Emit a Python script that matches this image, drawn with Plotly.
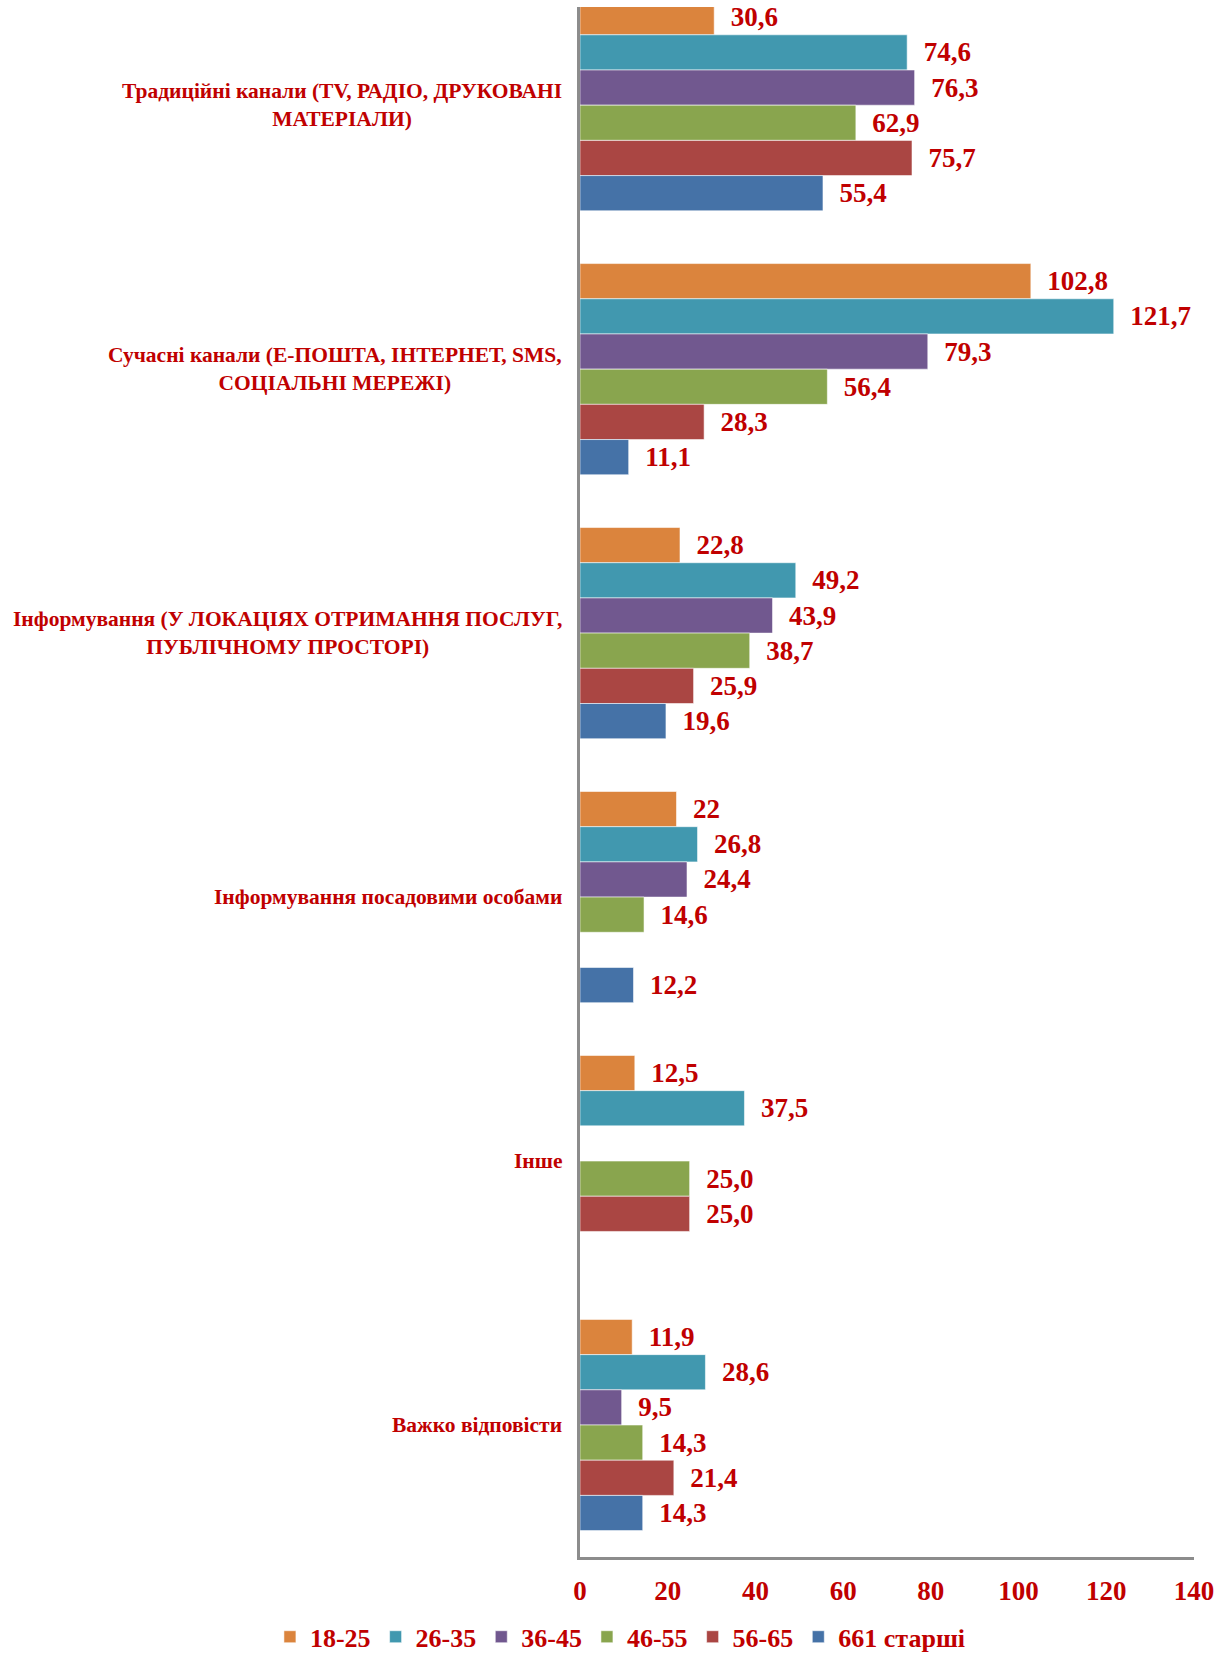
import plotly.graph_objects as go

# Channel categories (top to bottom)
categories = [
    "Традиційні канали (TV, РАДІО, ДРУКОВАНІ<br>МАТЕРІАЛИ)",
    "Сучасні канали (Е-ПОШТА, ІНТЕРНЕТ, SMS,<br>СОЦІАЛЬНІ МЕРЕЖІ)",
    "Інформування (У ЛОКАЦІЯХ ОТРИМАННЯ ПОСЛУГ,<br>ПУБЛІЧНОМУ ПРОСТОРІ)",
    "Інформування посадовими особами",
    "Інше",
    "Важко відповісти",
]

# Age groups (legend order)
age_groups = ["18-25", "26-35", "36-45", "46-55", "56-65", "661 старші"]

# Values per age group, written as they are labelled (None = no answer)
v_18_25 = ["30,6", "102,8", "22,8", "22", "12,5", "11,9"]
v_26_35 = ["74,6", "121,7", "49,2", "26,8", "37,5", "28,6"]
v_36_45 = ["76,3", "79,3", "43,9", "24,4", None, "9,5"]
v_46_55 = ["62,9", "56,4", "38,7", "14,6", "25,0", "14,3"]
v_56_65 = ["75,7", "28,3", "25,9", None, "25,0", "21,4"]
v_66_up = ["55,4", "11,1", "19,6", "12,2", None, "14,3"]

series = [v_18_25, v_26_35, v_36_45, v_46_55, v_56_65, v_66_up]
colors = ["#DB843D", "#4198AF", "#71588F", "#89A54E", "#AA4643", "#4572A7"]

x_ticks = [0, 20, 40, 60, 80, 100, 120, 140]

RED = "#C00000"
FONT = "Liberation Serif"


def to_num(s):
    return None if s is None else float(s.replace(",", "."))


fig = go.Figure()
for name, vals, col in zip(age_groups, series, colors):
    nums = [to_num(s) for s in vals]
    labels = ["" if s is None else "\u00a0\u00a0" + s for s in vals]
    fig.add_trace(go.Bar(
        name=name,
        y=categories,
        x=nums,
        orientation="h",
        marker=dict(color=col, line=dict(color="rgba(255,255,255,0.55)", width=1)),
        text=labels,
        textposition="outside",
        constraintext="none",
        cliponaxis=False,
        textfont=dict(family=FONT, size=27, color=RED, weight="bold"),
        hoverinfo="x+name",
    ))

# Category labels, centred line by line, to the left of the axis
for cat in categories:
    fig.add_annotation(
        x=0, xref="paper", xanchor="right", xshift=-16,
        y=cat, yref="y", yanchor="middle",
        text=cat, showarrow=False, align="center",
        font=dict(family=FONT, size=21.5, color=RED, weight="bold"),
    )

fig.update_layout(
    width=1227, height=1659,
    margin=dict(l=580, r=33, t=7, b=102, autoexpand=False),
    paper_bgcolor="white", plot_bgcolor="white",
    barmode="group", bargap=0.2, bargroupgap=0,
    showlegend=True,
    legend=dict(
        orientation="h", x=-0.505, xanchor="left", y=-0.0515, yanchor="middle",
        font=dict(family=FONT, size=26, color=RED, weight="bold"),
        itemclick=False, traceorder="normal", bgcolor="rgba(0,0,0,0)",
    ),
)

fig.update_xaxes(
    range=[0, 140], tickvals=x_ticks, showgrid=False, zeroline=False,
    showline=True, linecolor="#8C8C8C", linewidth=3, layer="below traces",
    ticks="", ticklabelstandoff=8,
    tickfont=dict(family=FONT, size=27, color=RED, weight="bold"),
)
fig.update_yaxes(
    type="category", categoryorder="array", categoryarray=categories,
    range=[5.5, -0.372], showgrid=False, zeroline=False,
    showline=True, linecolor="#8C8C8C", linewidth=3, layer="below traces",
    ticks="", showticklabels=False,
)

fig.write_html("out.html")
